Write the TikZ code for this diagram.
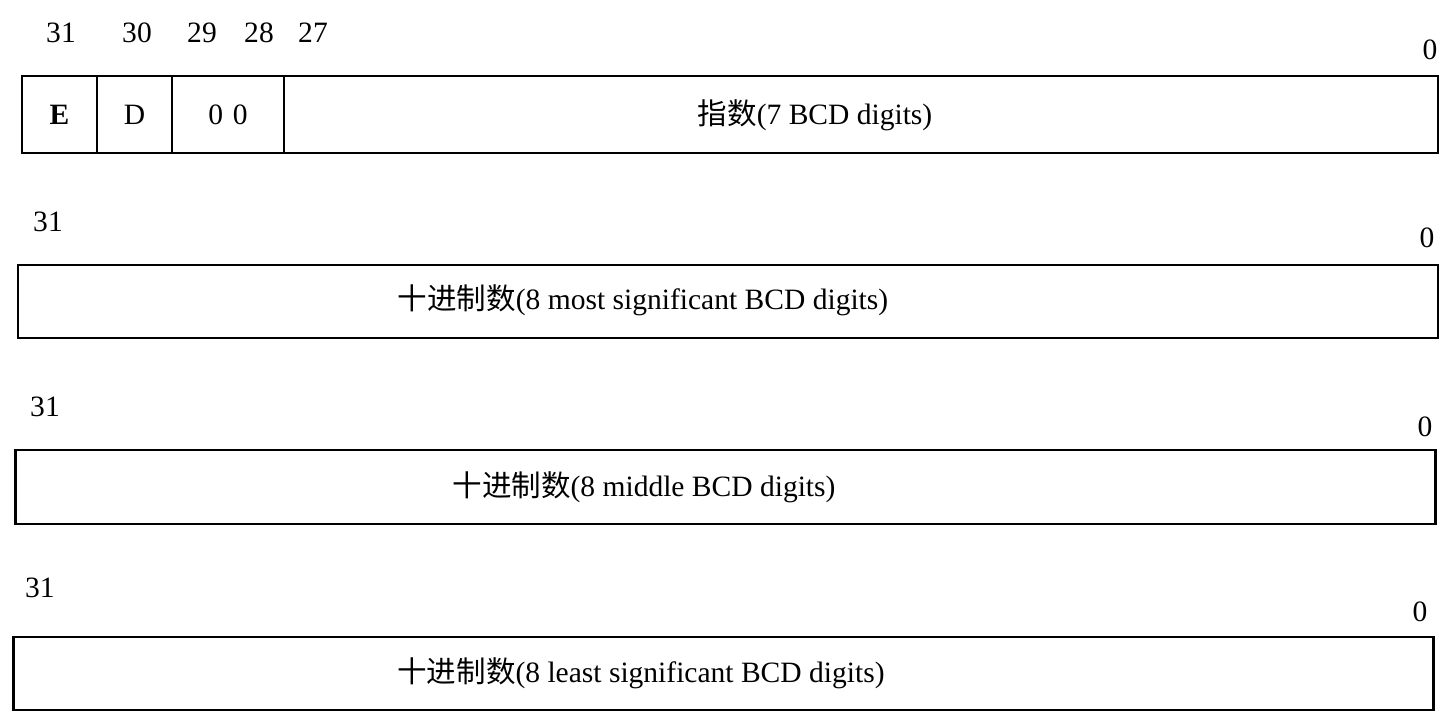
\documentclass[tikz,border=0pt]{standalone}
\usepackage{fontspec}
\setmainfont{Liberation Serif}
\newfontfamily\cjk{Noto Sans CJK SC}
\usetikzlibrary{positioning}

\begin{document}
\begin{tikzpicture}[x=1mm,y=-1mm,
    field/.style={draw,line width=0.7pt,inner sep=0pt,minimum width=#1},
    field/.default=142mm,
    bitno/.style={font=\fontsize{8.4}{10}\selectfont,inner sep=0pt},
    fieldtext/.style={font=\fontsize{8.4}{10}\selectfont,inner sep=0pt}]
  \useasboundingbox (0,0) rectangle (143.9,71.5);

  %% word 1: sign, D flag, zero bits and exponent
  \node[field=7.5mm,minimum height=7.7mm] (sgn) at (5.95,11.45) {};
  \node[field=7.5mm,minimum height=7.7mm] (dflag) at (13.45,11.45) {};
  \node[field=11.2mm,minimum height=7.7mm] (zeros) at (22.8,11.45) {};
  \node[field=115.4mm,minimum height=7.7mm] (expo) at (86.1,11.45) {};
  \node[fieldtext] (sgntext) at (sgn.center) {\bfseries E};
  \node[fieldtext] (dtext) at (dflag.center) {D};
  \node[fieldtext] (zerotext) at (zeros.center) {0\,\,0};
  \node[fieldtext] (expotext) at (81.5,11.5) {{\cjk 指数}(7 BCD digits)};
  \node[bitno] (b31a) at (6.1,3.3) {31};
  \node[bitno] (b30) at (13.7,3.3) {30};
  \node[bitno] (b29) at (20.2,3.3) {29};
  \node[bitno] (b28) at (25.9,3.3) {28};
  \node[bitno] (b27) at (31.3,3.3) {27};
  \node[bitno] (b0a) at (143.0,5.0) {0};

  %% word 2: most significant digits
  \node[field,minimum height=7.3mm] (msd) at (72.8,30.15) {};
  \node[fieldtext] (msdtext) at (64.3,30.0) {{\cjk 十进制数}(8 most significant BCD digits)};
  \node[bitno] (b31b) at (4.8,22.2) {31};
  \node[bitno] (b0b) at (142.7,23.8) {0};

  %% word 3: middle digits
  \node[field,minimum height=7.4mm] (mid) at (72.55,48.7) {};
  \node[fieldtext] (midtext) at (64.4,48.7) {{\cjk 十进制数}(8 middle BCD digits)};
  \node[bitno] (b31c) at (4.5,40.7) {31};
  \node[bitno] (b0c) at (142.5,42.7) {0};

  %% word 4: least significant digits
  \node[field,minimum height=7.3mm] (lsd) at (72.35,67.35) {};
  \node[fieldtext] (lsdtext) at (64.1,67.3) {{\cjk 十进制数}(8 least significant BCD digits)};
  \node[bitno] (b31d) at (4.0,58.8) {31};
  \node[bitno] (b0d) at (142.0,61.2) {0};
\end{tikzpicture}
\end{document}
